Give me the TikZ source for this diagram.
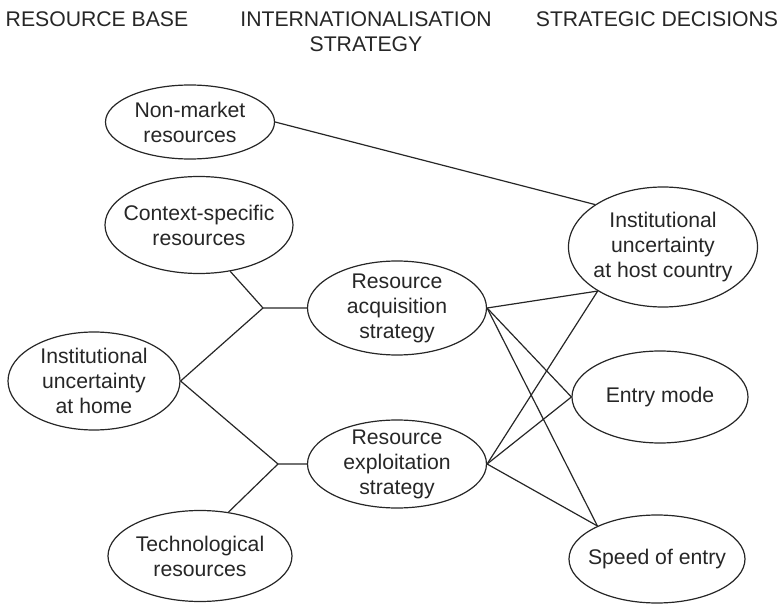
\documentclass[tikz,border=0pt]{standalone}
\usepackage{fontspec}
\setmainfont{Liberation Sans}
\usetikzlibrary{positioning,shapes}

\begin{document}
\begin{tikzpicture}[x=0.5pt, y=-0.5pt,
		every node/.style={font=\fontsize{10.6}{12.5}\selectfont, text=black!85},
		oval/.style={ellipse, draw=black!85, line width=0.6pt, align=center, inner xsep=-6pt, inner ysep=-4pt},
		link/.style={draw=black!85, line width=0.6pt}]
			\useasboundingbox (0,0) rectangle (784,605);
			\node (base) at (97,19) {RESOURCE BASE};
			\node [align=center] (intl) at (366,31.5) {INTERNATIONALISATION\\STRATEGY};
			\node (decisions) at (657,19) {STRATEGIC DECISIONS};
			\node [oval, minimum width=84.5pt, minimum height=37pt] (nonmarket) at (190,122) {Non-market\\resources};
			\node [oval, minimum width=94pt, minimum height=48.5pt] (context) at (199,225) {Context-specific\\resources};
			\node [oval, minimum width=86pt, minimum height=49pt] (home) at (94,381) {Institutional\\uncertainty\\at home};
			\node [oval, minimum width=92pt, minimum height=45.5pt] (tech) at (200,556) {Technological\\resources};
			\node [oval, minimum width=89.5pt, minimum height=47pt] (acq) at (397,308) {Resource\\acquisition\\strategy};
			\node [oval, minimum width=89.5pt, minimum height=44pt] (expl) at (397,464) {Resource\\exploitation\\strategy};
			\node [oval, minimum width=94.5pt, minimum height=60pt] (host) at (663,247) {Institutional\\uncertainty\\at host country};
			\node [oval, minimum width=88pt, minimum height=46pt] (entry) at (660,397) {Entry mode};
			\node [oval, minimum width=88pt, minimum height=44pt] (speed) at (657,559) {Speed of entry};
			\coordinate (acqjoin) at (263,308);
			\coordinate (expljoin) at (278,464);
			\draw [link] (nonmarket.east) -- (host.148);
			\draw [link] (context.304) -- (acqjoin) -- (acq.west);
			\draw [link] (home.east) -- (acqjoin);
			\draw [link] (home.east) -- (expljoin) -- (expl.west);
			\draw [link] (tech.57) -- (expljoin);
			\foreach \src in {acq,expl} {
				\draw [link] (\src.east) -- (host.214);
				\draw [link] (\src.east) -- (entry.west);
				\draw [link] (\src.east) -- (speed.151);
			}
		\end{tikzpicture}
\end{document}
